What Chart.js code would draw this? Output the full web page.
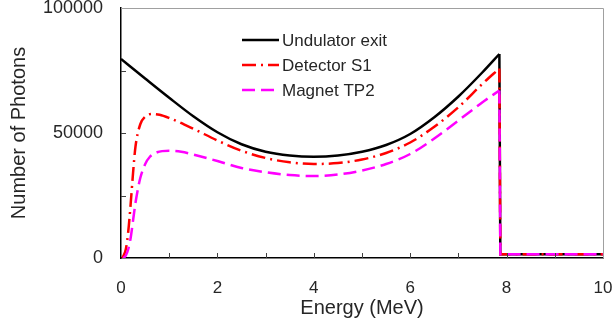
<!DOCTYPE html>
<html>
<head>
<meta charset="utf-8">
<script src="https://cdn.jsdelivr.net/npm/chart.js@4"></script>
<style>
  body { margin: 0; background: #fff; }
  canvas { display: block; }
</style>
</head>
<body>
<canvas id="grafico" width="614" height="329"></canvas>
<script>
// Datos (energia en MeV, numero de fotones)
const energiaOndulador = [0, 0.5, 1.0, 1.5, 2.0, 2.5, 3.0, 3.5, 4.0, 4.5, 5.0, 5.5, 6.0, 6.5, 7.0, 7.5, 7.85, 7.87, 10];
const fotonesOndulador = [79600, 71800, 64100, 56700, 50300, 45500, 42500, 41000, 40500, 41000, 42500, 45200, 49600, 56300, 64600, 74300, 81600, 1500, 1500];

const energiaDetector = [0.03, 0.1, 0.15, 0.2, 0.25, 0.3, 0.4, 0.5, 0.65, 0.8, 1.0, 1.5, 2.0, 2.5, 3.0, 3.5, 4.0, 4.5, 5.0, 5.5, 6.0, 6.5, 7.0, 7.5, 7.85, 7.87, 10];
const fotonesDetector = [0, 3500, 10500, 21500, 34000, 44500, 53500, 56500, 57600, 57300, 56000, 51700, 47000, 42900, 40000, 38300, 37600, 38000, 39400, 42000, 46200, 52500, 60300, 69700, 75800, 1500, 1500];

const energiaIman = [0.05, 0.1, 0.15, 0.2, 0.25, 0.3, 0.35, 0.4, 0.5, 0.6, 0.75, 1.0, 1.25, 1.5, 2.0, 2.5, 3.0, 3.5, 4.0, 4.5, 5.0, 5.5, 6.0, 6.5, 7.0, 7.5, 7.85, 7.87, 10];
const fotonesIman = [0, 1000, 3500, 8000, 15000, 22000, 27500, 32000, 37500, 40500, 42300, 42900, 42500, 41400, 38800, 36000, 34300, 33200, 32800, 33400, 35000, 37600, 41600, 47800, 55000, 62300, 67000, 1500, 1500];

const nombresSeries = ['Undulator exit', 'Detector S1', 'Magnet TP2'];
const ticksX = [0, 2, 4, 6, 8, 10];
const ticksY = [0, 50000, 100000];

const colorTexto = '#262626';
const estilos = [
  { color: '#000000', dash: [] },
  { color: '#ff0000', dash: [14, 5, 2, 5] },
  { color: '#ff00ff', dash: [13, 6] }
];

function puntos(xs, ys) {
  return xs.map((x, i) => ({ x: x, y: ys[i] }));
}

// Marcas de escala hacia dentro, bordes grises y leyenda
const extras = {
  id: 'extras',
  afterDraw(chart) {
    const ctx = chart.ctx;
    const a = chart.chartArea;
    const sx = chart.scales.x;
    const sy = chart.scales.y;
    ctx.save();
    // borde superior y derecho
    ctx.strokeStyle = '#a0a0a0';
    ctx.lineWidth = 1;
    ctx.beginPath();
    ctx.moveTo(a.left, a.top + 0.5);
    ctx.lineTo(a.right + 0.5, a.top + 0.5);
    ctx.lineTo(a.right + 0.5, a.bottom);
    ctx.stroke();
    // marcas
    ctx.strokeStyle = '#404040';
    ctx.beginPath();
    for (let v = 1; v < 10; v++) {
      const px = Math.round(sx.getPixelForValue(v)) + 0.5;
      ctx.moveTo(px, a.bottom);
      ctx.lineTo(px, a.bottom - 5);
    }
    for (let v = 25000; v < 100000; v += 25000) {
      const py = Math.round(sy.getPixelForValue(v)) + 0.5;
      ctx.moveTo(a.left, py);
      ctx.lineTo(a.left + 5, py);
    }
    ctx.stroke();
    // leyenda
    ctx.font = '17px "Liberation Sans", Arial, sans-serif';
    ctx.textBaseline = 'middle';
    nombresSeries.forEach((nombre, i) => {
      const y = 40 + i * 25;
      ctx.strokeStyle = estilos[i].color;
      ctx.lineWidth = 2.5;
      ctx.setLineDash(estilos[i].dash);
      ctx.beginPath();
      ctx.moveTo(242, y);
      ctx.lineTo(279, y);
      ctx.stroke();
      ctx.setLineDash([]);
      ctx.fillStyle = colorTexto;
      ctx.fillText(nombre, 282, y + 1);
    });
    ctx.restore();
  }
};

const series = [
  puntos(energiaOndulador, fotonesOndulador),
  puntos(energiaDetector, fotonesDetector),
  puntos(energiaIman, fotonesIman)
];

// Cada serie: tramo curvo hasta el maximo y luego la caida vertical en linea recta
const datasets = [];
series.forEach((datos, i) => {
  const corte = datos.length - 2; // ultimo punto antes de la caida
  const base = {
    label: nombresSeries[i],
    borderColor: estilos[i].color,
    borderDash: estilos[i].dash,
    borderWidth: 2.5,
    pointRadius: 0,
    fill: false,
    order: 3 - i
  };
  datasets.push(Object.assign({}, base, { data: datos.slice(0, corte), cubicInterpolationMode: 'monotone' }));
  datasets.push(Object.assign({}, base, { data: datos.slice(corte - 1), tension: 0 }));
});

new Chart(document.getElementById('grafico').getContext('2d'), {
  type: 'line',
  data: { datasets: datasets },
  options: {
    responsive: false,
    animation: false,
    layout: { padding: { top: 8, right: 11, left: 0, bottom: 0 } },
    plugins: { legend: { display: false }, tooltip: { enabled: false } },
    scales: {
      x: {
        type: 'linear',
        min: 0,
        max: 10,
        afterFit: s => {
          s.height = 71;
          s.paddingLeft = 0;
          s.paddingRight = 0;
        },
        afterBuildTicks: s => { s.ticks = ticksX.map(v => ({ value: v })); },
        grid: { display: false, drawTicks: false },
        border: { color: '#000', width: 1.5 },
        ticks: {
          padding: 20,
          color: colorTexto,
          font: { family: '"Liberation Sans", Arial', size: 17 },
          callback: v => String(v)
        },
        title: {
          display: true,
          text: 'Energy (MeV)',
          color: colorTexto,
          font: { family: '"Liberation Sans", Arial', size: 20 },
          padding: { top: 0, bottom: 9 }
        }
      },
      y: {
        min: 0,
        max: 100000,
        afterFit: s => {
          s.width = 121;
          s.paddingTop = 0;
          s.paddingBottom = 0;
        },
        afterBuildTicks: s => { s.ticks = ticksY.map(v => ({ value: v })); },
        grid: { display: false, drawTicks: false },
        border: { color: '#000', width: 1.5 },
        ticks: {
          padding: 18,
          color: colorTexto,
          font: { family: '"Liberation Sans", Arial', size: 18 },
          callback: v => String(v)
        },
        title: {
          display: true,
          text: 'Number of Photons',
          color: colorTexto,
          font: { family: '"Liberation Sans", Arial', size: 20 },
          padding: { top: 7, bottom: 0 }
        }
      }
    }
  },
  plugins: [extras]
});
</script>
</body>
</html>
